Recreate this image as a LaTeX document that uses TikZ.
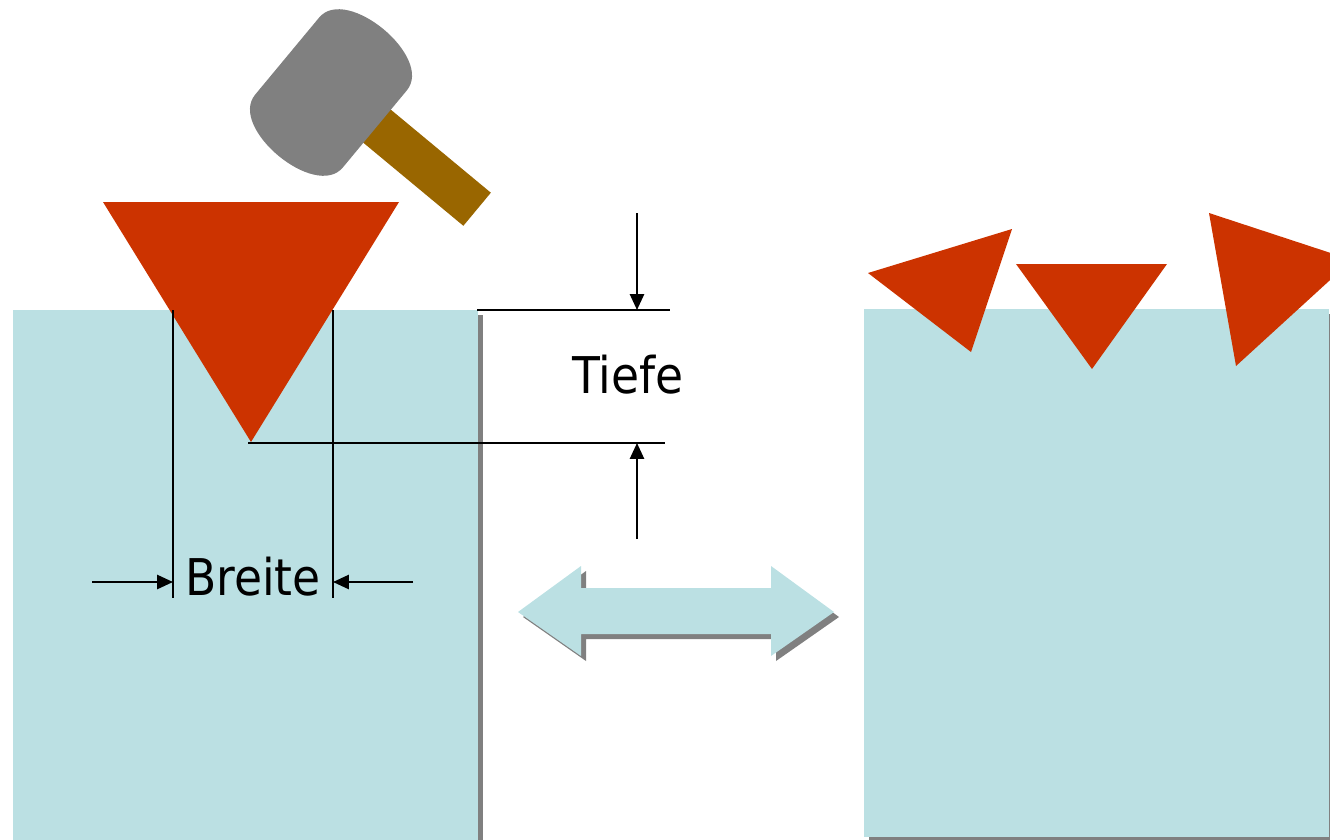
\documentclass[tikz,border=0pt]{standalone}
\usepackage{fontspec}
\newfontfamily\labelfont{DejaVu Sans Condensed}
\usetikzlibrary{arrows.meta}

\definecolor{blockblue}{HTML}{BBE0E3}
\definecolor{shadowgray}{HTML}{808080}
\definecolor{wedgered}{HTML}{CC3300}
\definecolor{handlebrown}{HTML}{996600}

\begin{document}
\begin{tikzpicture}[x=0.01cm,y=-0.01cm,
  dimline/.style={line width=0.6pt},
  dimarrow/.style={line width=0.6pt,-{Triangle[length=4.5pt,width=4pt]}},
  dimlabel/.style={font=\labelfont\fontsize{14.4}{17}\selectfont,anchor=base,inner sep=0pt}]

\useasboundingbox (0,0) rectangle (1330,839);

\def\leftblock{(13,310) rectangle (478,850)}
\def\rightblock{(864,309) rectangle (1329,837)}
\def\doublearrow{(518,612) -- (581,566) -- (581,588) -- (771,588) -- (771,566)
  -- (834,612) -- (771,656) -- (771,634) -- (581,634) -- (581,656) -- cycle}

% shadows first, then the blocks and the arrow on top
\begin{scope}[shift={(5,5)}]
\fill[shadowgray] \leftblock;
\fill[shadowgray] \rightblock;
\fill[shadowgray] \doublearrow;
\end{scope}

\fill[blockblue] \leftblock;
\fill[blockblue] \rightblock;
\fill[blockblue] \doublearrow;

% hammer: handle under the head
\begin{scope}[shift={(331,92.5)}, rotate=-39.7]
\fill[handlebrown] (0,-25) rectangle (187,18);
\fill[shadowgray] (-57,-50) -- (-57,50) .. controls (-57,93) and (57,93) .. (57,50)
  -- (57,-50) .. controls (57,-93) and (-57,-93) .. (-57,-50) -- cycle;
\end{scope}

% the wedge being driven in
\fill[wedgered] (103,202) -- (399,202) -- (251,442) -- cycle;

% wedges lying on the second block
\fill[wedgered] (868,273) -- (1012,229) -- (971,352) -- cycle;
\fill[wedgered] (1016,264) -- (1167,264) -- (1092,369) -- cycle;
\fill[wedgered] (1209,213) -- (1352,260) -- (1236,366) -- cycle;

% depth
\coordinate (surf) at (477,310);
\coordinate (surf end) at (670,310);
\coordinate (tip) at (248,443);
\coordinate (tip end) at (665,443);
\coordinate (down start) at (637,213);
\coordinate (down end) at (637,310);
\coordinate (up start) at (637,539);
\coordinate (up end) at (637,443);

\draw[dimline] (surf) -- (surf end);
\draw[dimline] (tip) -- (tip end);
\draw[dimarrow] (down start) -- (down end);
\draw[dimarrow] (up start) -- (up end);
\node[dimlabel] (tiefe) at (628,393) {Tiefe};

% width
\coordinate (wl top) at (173,310);
\coordinate (wl bot) at (173,598);
\coordinate (wr top) at (333,310);
\coordinate (wr bot) at (333,598);
\coordinate (left start) at (92,582);
\coordinate (left end) at (173,582);
\coordinate (right start) at (413,582);
\coordinate (right end) at (333,582);

\draw[dimline] (wl top) -- (wl bot);
\draw[dimline] (wr top) -- (wr bot);
\draw[dimarrow] (left start) -- (left end);
\draw[dimarrow] (right start) -- (right end);
\node[dimlabel] (breite) at (253,595) {Breite};

\end{tikzpicture}
\end{document}
